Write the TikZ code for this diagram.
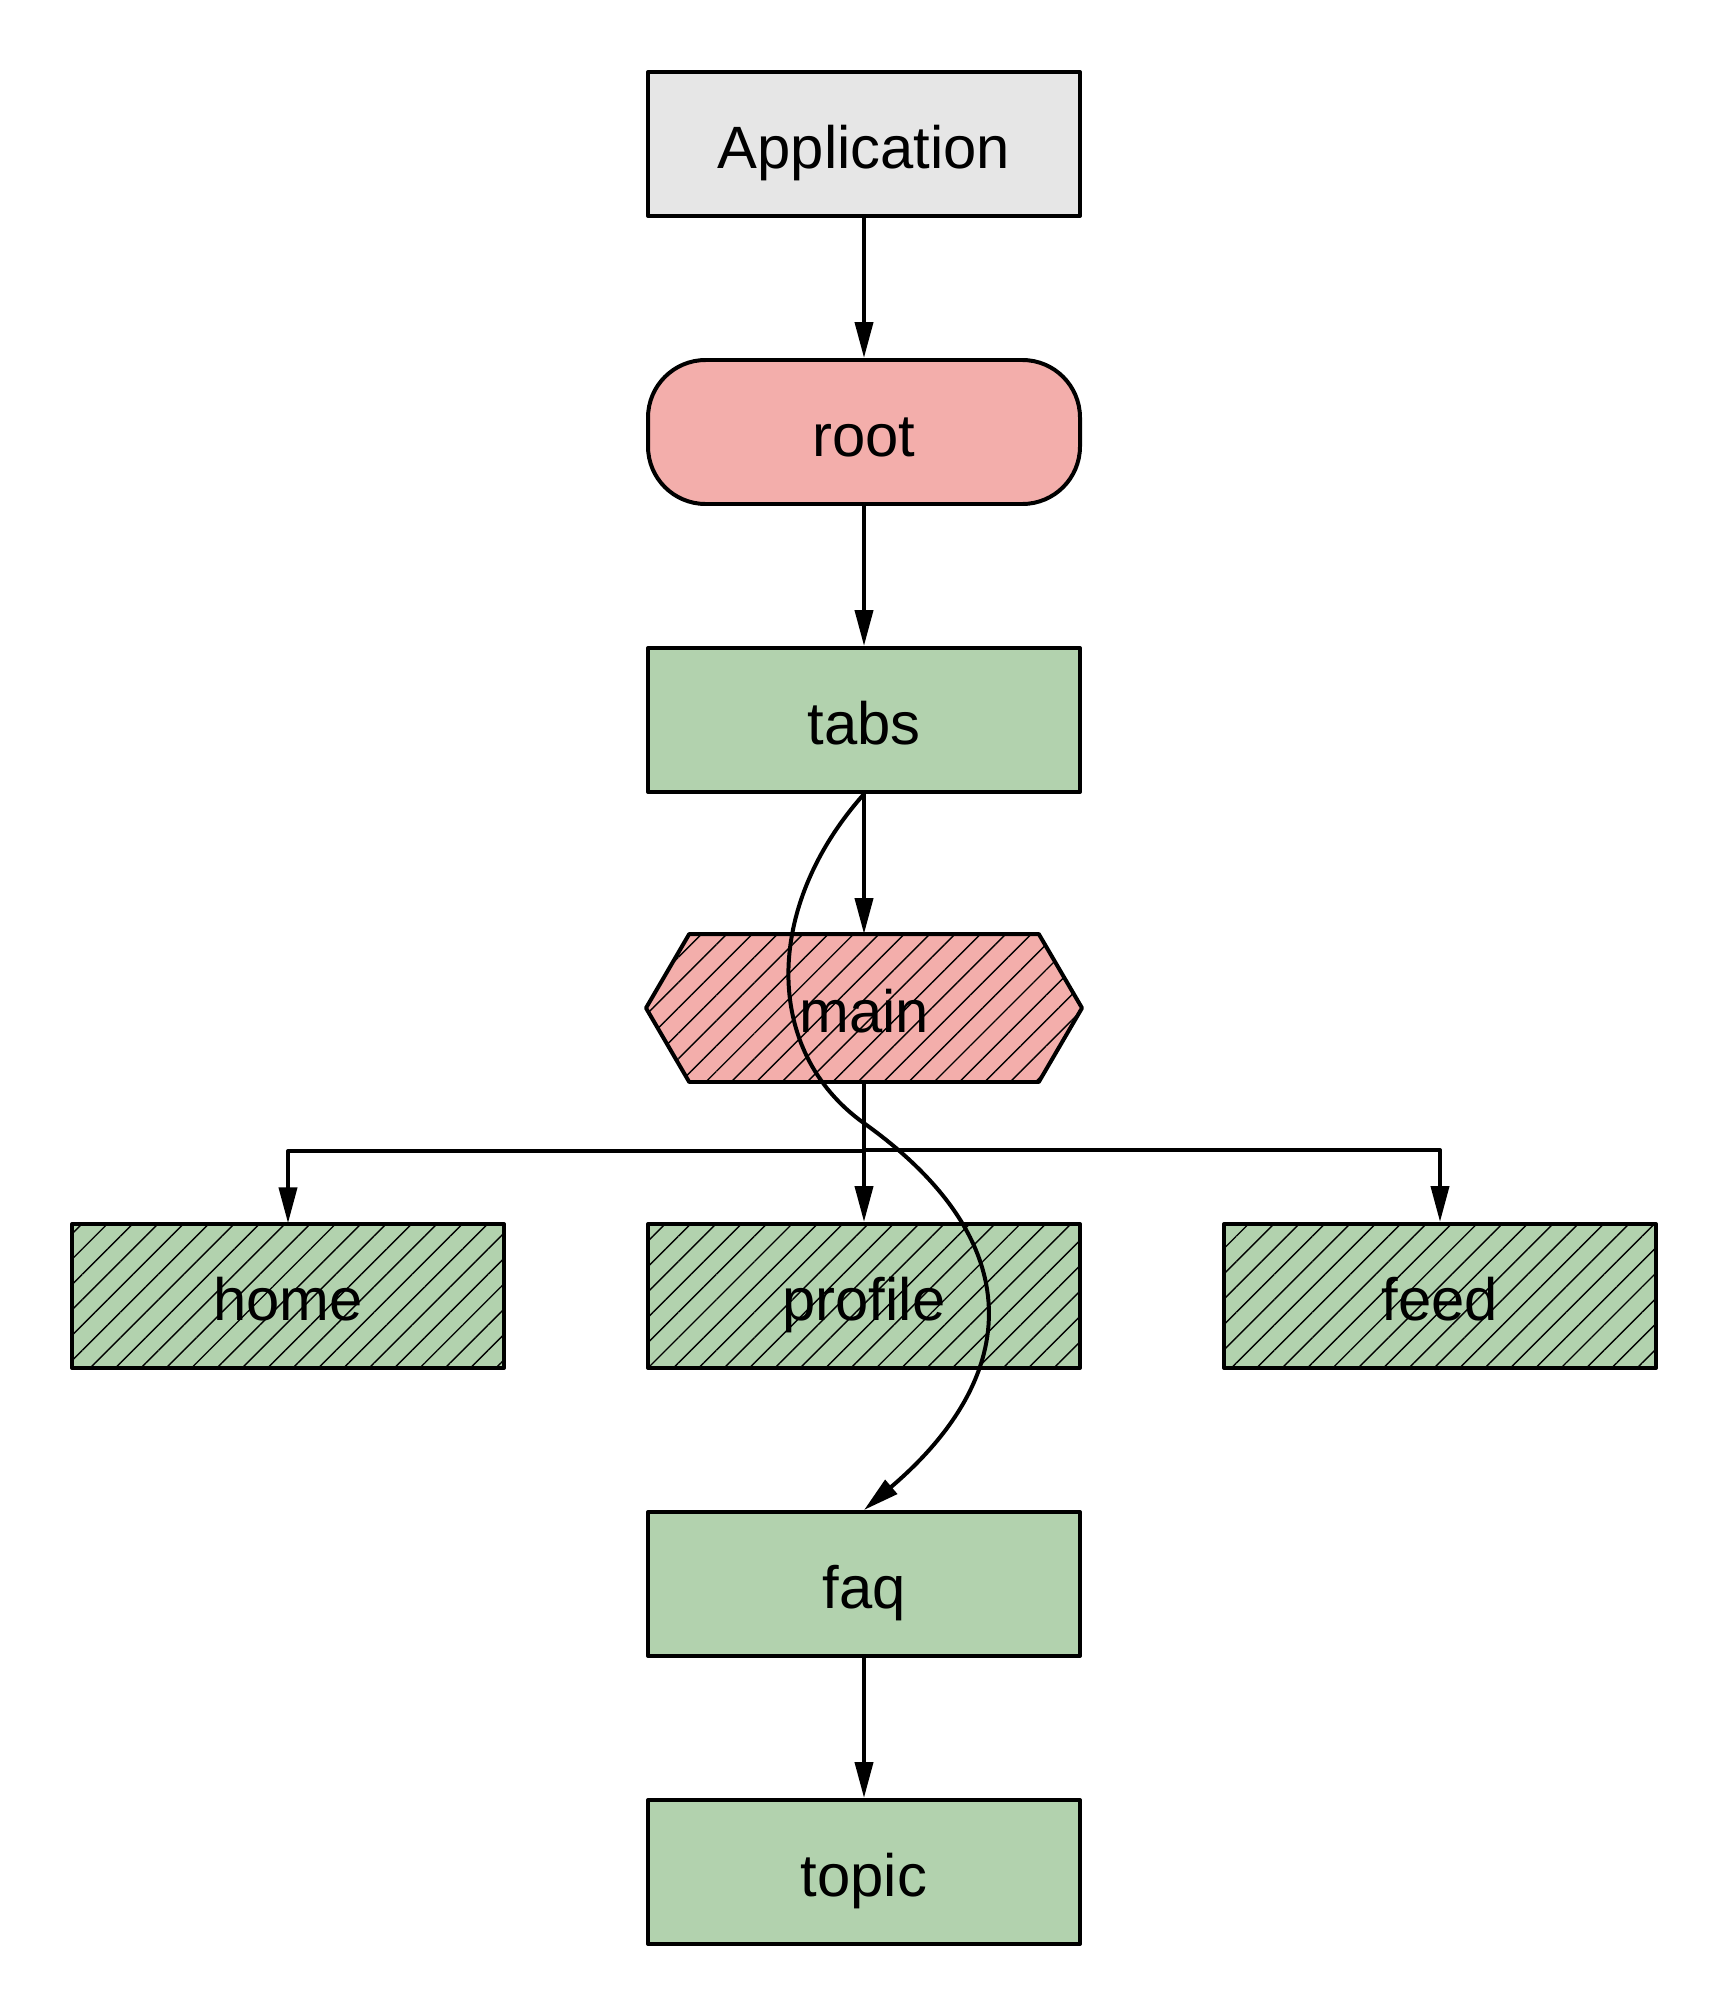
\documentclass[tikz,border=0pt]{standalone}
\usepackage{fontspec}
\setmainfont{Liberation Sans}
\usetikzlibrary{arrows.meta, patterns.meta, backgrounds}
\definecolor{appgray}{HTML}{E6E6E6}
\definecolor{routepink}{HTML}{F3AEAB}
\definecolor{pagegreen}{HTML}{B2D2AE}
\begin{document}
\begin{tikzpicture}[x=1in, y=1in, line width=2pt, line join=round, font=\fontsize{30}{36}\selectfont, >={Triangle[length=18pt, width=9pt]}]
	\tikzset{
		box/.style={draw, rectangle, minimum width=3in, minimum height=1in, inner sep=0pt, text height=25pt, text depth=0pt},
		hatch/.style={preaction={fill=#1}, pattern={Lines[angle=45, distance=9pt, line width=0.7pt]}, pattern color=black}
	}
	\useasboundingbox (0,0) rectangle (12,-14);
	\node[box, fill=appgray] (app) at (6,-1) {Application};
	\node[box, fill=routepink, rounded corners=0.4in] (root) at (6,-3) {root};
	\node[box, fill=pagegreen] (tabs) at (6,-5) {tabs};
	\node[box, draw=none] (main) at (6,-7) {main};
	\node[box, hatch=pagegreen] (home) at (2,-9) {home};
	\node[box, hatch=pagegreen] (profile) at (6,-9) {profile};
	\node[box, hatch=pagegreen] (feed) at (10,-9) {feed};
	\node[box, fill=pagegreen] (faq) at (6,-11) {faq};
	\node[box, fill=pagegreen] (topic) at (6,-13) {topic};
	\begin{scope}[on background layer]
		\draw[hatch=routepink, line width=2pt, line join=round] (main.west) -- ([xshift=.3in]main.north west) -- ([xshift=-.3in]main.north east)
			-- (main.east) -- ([xshift=-.3in]main.south east) -- ([xshift=.3in]main.south west) -- cycle;
	\end{scope}
	\draw[->] (app) -- (root);
	\draw[->] (root) -- (tabs);
	\draw[->] (tabs) -- (main);
	\draw[->] (main) -- (profile);
	\draw[->] (main.south) |- ([yshift=.5in]home.north) -- (home.north);
	\draw[->] (main.south) |- ([yshift=.5in]feed.north) -- (feed.north);
	\draw[->] (tabs.south) .. controls (5.3,-6.3) and (5.3,-7.3) .. (6,-7.8) .. controls (7.15,-8.62) and (7.1,-9.55) .. (faq.north);
	\draw[->] (faq) -- (topic);
\end{tikzpicture}
\end{document}
